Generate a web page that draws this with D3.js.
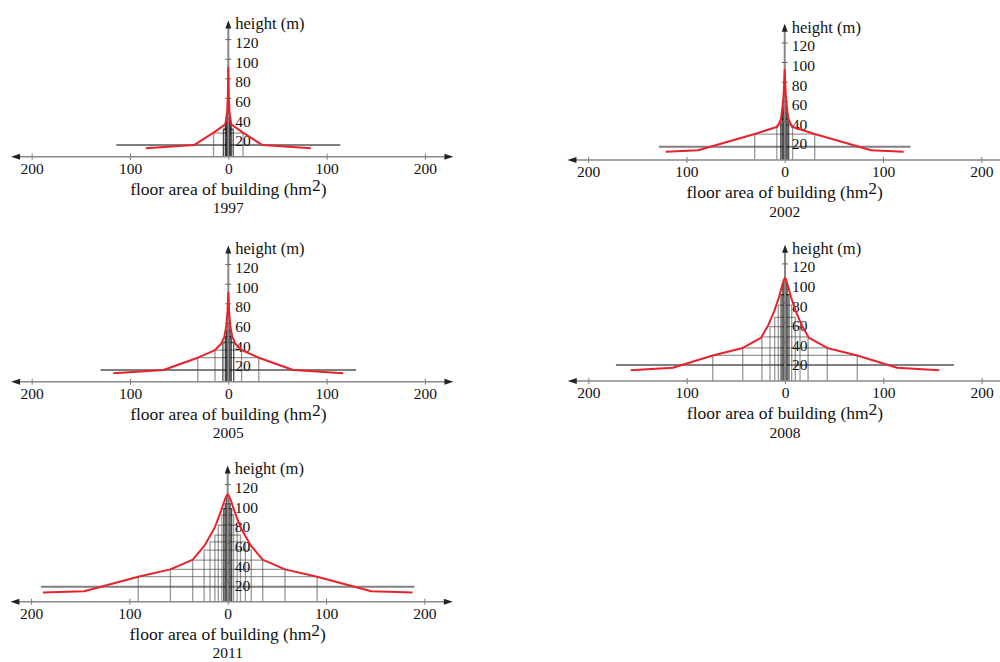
<!DOCTYPE html>
<html>
<head>
<meta charset="utf-8">
<script src="https://cdn.jsdelivr.net/npm/d3@7"></script>
<style>
  body { margin: 0; background: #fff; }
  svg text { font-family: "Liberation Serif", "Times New Roman", serif; fill: #111; }
</style>
</head>
<body>
<svg id="chart" width="1000" height="662"></svg>
<script>
// tick values
const xTicks = [-200, -100, 0, 100, 200];
const yTicks = [20, 40, 60, 80, 100, 120];
const years = ["1997", "2002", "2005", "2008", "2011"];

// blocks: half floor area (hm2) and height (m), widest first
const blockArea1997 = [114, 15, 5, 3, 2, 1.3, 0.7];
const blockHeight1997 = [12, 24, 28, 34, 40, 45, 48];
const blockArea2002 = [128, 30.5, 8, 4, 2.5, 1.4, 0.6];
const blockHeight2002 = [13.6, 26.5, 35.5, 42, 48, 54, 58];
const blockArea2005 = [130, 31, 13.5, 5.5, 3, 1.8, 0.8];
const blockHeight2005 = [12, 24.5, 32.3, 40, 46, 52, 58];
const blockArea2008 = [172, 73.5, 43, 23.5, 15.3, 10.5, 6.8, 4, 2.2, 1];
const blockHeight2008 = [16.3, 26.2, 33.7, 45, 55.5, 65, 77.5, 88, 98, 104];
const blockArea2011 = [190, 91, 58.3, 35.6, 24, 18, 13, 9.6, 6, 4, 2.5, 1.2];
const blockHeight2011 = [15.3, 25.5, 33, 42.5, 52.7, 61, 68, 78, 88.5, 95, 100, 106];

// red curve, one half (mirrored about 0)
const curveArea1997 = [84, 34.5, 15, 3, 1.2, 0.5, 0];
const curveHeight1997 = [8.6, 12, 24.5, 33, 45, 60, 91];
const curveArea2002 = [121, 88, 30.5, 7.5, 4, 2.5, 1, 0];
const curveHeight2002 = [8.5, 10, 26.5, 34, 41, 51, 68, 92];
const curveArea2005 = [117, 66, 31, 13.5, 7, 4, 2, 0.8, 0];
const curveHeight2005 = [8.5, 12, 24.5, 32.3, 39, 46, 57, 72, 91];
const curveArea2008 = [157, 114, 73.5, 43, 24.5, 17, 11, 6, 3, 1.2, 0];
const curveHeight2008 = [11, 13.6, 26, 33.7, 44, 57, 71, 86, 97, 103, 105];
const curveArea2011 = [188, 146, 91, 58.3, 35.5, 23, 13, 7, 4, 2, 0.8, 0];
const curveHeight2011 = [9.5, 10.7, 25.5, 33, 43, 58, 76, 92, 101, 106.5, 108.7, 109.3];

const panels = [
  {year: years[0], ox: 228.3, oy: 156.7, ba: blockArea1997, bh: blockHeight1997, ca: curveArea1997, ch: curveHeight1997},
  {year: years[1], ox: 784.7, oy: 160,   ba: blockArea2002, bh: blockHeight2002, ca: curveArea2002, ch: curveHeight2002},
  {year: years[2], ox: 228.3, oy: 381.7, ba: blockArea2005, bh: blockHeight2005, ca: curveArea2005, ch: curveHeight2005},
  {year: years[3], ox: 785,   oy: 381,   ba: blockArea2008, bh: blockHeight2008, ca: curveArea2008, ch: curveHeight2008},
  {year: years[4], ox: 227.7, oy: 601.7, ba: blockArea2011, bh: blockHeight2011, ca: curveArea2011, ch: curveHeight2011}
];

const svg = d3.select("#chart");

panels.forEach(p => {
  const x = d3.scaleLinear().domain([-200, 200]).range([p.ox - 196.6, p.ox + 196.6]);
  const y = d3.scaleLinear().domain([0, 120]).range([p.oy, p.oy - 117.6]);
  const g = svg.append("g");

  // blocks (widest one only shows its top edge)
  p.ba.forEach((a, i) => {
    const h = p.bh[i];
    if (i === 0) {
      g.append("line")
        .attr("x1", x(-a)).attr("x2", x(a))
        .attr("y1", y(h)).attr("y2", y(h))
        .attr("stroke", "#808080").attr("stroke-width", 2);
    } else {
      const narrow = a < 6;
      g.append("path")
        .attr("d", `M${x(-a)},${y(0)}V${y(h)}H${x(a)}V${y(0)}`)
        .attr("fill", "none")
        .attr("stroke", narrow ? "#111" : "#444")
        .attr("stroke-opacity", narrow ? 0.75 : 0.55)
        .attr("stroke-width", 1.3);
    }
  });

  // x axis
  const xAxis = g.append("g")
    .attr("transform", `translate(0,${y(0)})`)
    .call(d3.axisBottom(x).tickValues(xTicks).tickFormat(d => Math.abs(d))
      .tickSizeInner(3).tickSizeOuter(0).tickPadding(3));
  xAxis.select(".domain").remove();
  xAxis.selectAll(".tick line").attr("y1", -3).attr("stroke", "#777");
  xAxis.selectAll(".tick text").attr("font-size", 15.5)
    .style("font-family", "Liberation Serif").attr("fill", "#111");

  g.append("line")
    .attr("x1", x(-214)).attr("x2", x(222))
    .attr("y1", y(0)).attr("y2", y(0))
    .attr("stroke", "#888").attr("stroke-width", 1.5);
  // arrows
  const lx = x(-221), rx = x(229), yy = y(0);
  g.append("path").attr("d", `M${lx},${yy}l9,-3v6z`).attr("fill", "#222");
  g.append("path").attr("d", `M${rx},${yy}l-9,-3v6z`).attr("fill", "#222");

  // y axis
  g.append("line")
    .attr("x1", x(0)).attr("x2", x(0))
    .attr("y1", y(0)).attr("y2", y(134))
    .attr("stroke", "#888").attr("stroke-width", 2);
  g.append("path").attr("d", `M${x(0)},${y(139)}l-3,8h6z`).attr("fill", "#222");

  const yAxis = g.append("g")
    .attr("transform", `translate(${x(0)},0)`)
    .call(d3.axisRight(y).tickValues(yTicks).tickSizeInner(3).tickSizeOuter(0).tickPadding(4));
  yAxis.select(".domain").remove();
  yAxis.selectAll(".tick line").attr("x1", -3).attr("stroke", "#666");
  yAxis.selectAll(".tick text").attr("font-size", 15.5).attr("dy", "0.55em")
    .style("font-family", "Liberation Serif").attr("fill", "#111");

  // red curve
  const pts = p.ca.map((a, i) => [-a, p.ch[i]])
    .concat(p.ca.slice(0, -1).map((a, i) => [a, p.ch[i]]).reverse());
  g.append("path")
    .datum(pts)
    .attr("fill", "none")
    .attr("stroke", "#e8222a")
    .attr("stroke-width", 2)
    .attr("stroke-linejoin", "round")
    .attr("d", d3.line().x(d => x(d[0])).y(d => y(d[1])));

  // titles
  g.append("text")
    .attr("x", x(0) + 7).attr("y", y(130))
    .attr("font-size", 16.5)
    .text("height (m)");

  const t = g.append("text")
    .attr("x", x(0)).attr("y", y(0) + 38)
    .attr("text-anchor", "middle")
    .attr("font-size", 17.5);
  t.append("tspan").text("floor area of building (hm");
  t.append("tspan").attr("dy", -4).text("2");
  t.append("tspan").attr("dy", 4).text(")");

  g.append("text")
    .attr("x", x(0)).attr("y", y(0) + 56.5)
    .attr("text-anchor", "middle")
    .attr("font-size", 15.5)
    .text(p.year);
});
</script>
</body>
</html>
